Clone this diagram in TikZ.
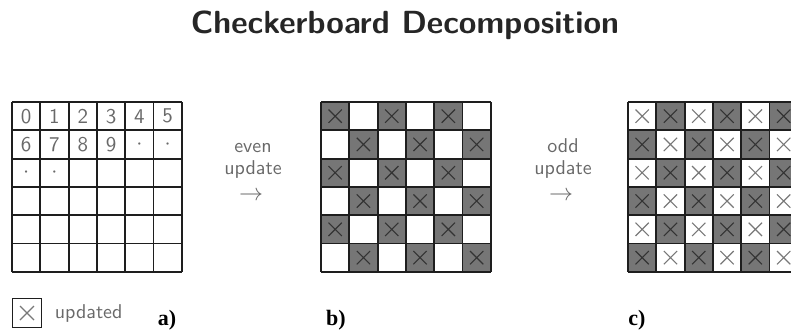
\documentclass[tikz,border=0pt]{standalone}
\usepackage{fontspec}
\newfontfamily\capfont{Liberation Serif}
\usetikzlibrary{positioning}

\definecolor{cellgray}{RGB}{118,118,118}
\definecolor{inkgray}{RGB}{105,105,105}
\definecolor{lineink}{RGB}{30,30,30}

\tikzset{
  gridline/.style={draw=lineink, line width=0.95pt},
  darkcell/.style={fill=cellgray},
  crossdark/.style={draw=black!80, line width=0.55pt},
  crosslight/.style={draw=inkgray!90, line width=0.55pt},
  digit/.style={text=inkgray, font=\sffamily\fontsize{10.5}{12}\selectfont, inner sep=0pt},
  steptext/.style={text=inkgray, font=\sffamily\fontsize{10}{11}\selectfont, inner sep=1pt},
  caption/.style={font=\capfont\bfseries\fontsize{11}{12}\selectfont, anchor=base, inner sep=0pt}
}

\begin{document}
\begin{tikzpicture}[x=0.5pt, y=-0.5pt]
        \useasboundingbox (0,0) rectangle (791,333);
        \clip (0,0) rectangle (791,333);

        \node[font=\sffamily\bfseries\fontsize{16}{20}\selectfont, text=black!85, anchor=base] (title) at (405,33) {Checkerboard Decomposition};

        % a) numbering of the sites
        \foreach \c/\r/\t in {0/0/0, 1/0/1, 2/0/2, 3/0/3, 4/0/4, 5/0/5, 0/1/6, 1/1/7, 2/1/8, 3/1/9, 4/1/{$\cdot$}, 5/1/{$\cdot$}, 0/2/{$\cdot$}, 1/2/{$\cdot$}}
            \node[digit] (site\c\r) at ({12+\c*28.3+14.15},{102+\r*28.3+14.15}) {\t};

        % b) even sites done
        \foreach \r in {0,...,5}
            \foreach \c in {0,...,5} {
                \pgfmathtruncatemacro\oddsite{mod(\r+\c,2)}
                \ifnum\oddsite=0
                    \fill[darkcell] ({321+\c*28.3},{102+\r*28.3}) rectangle ++(28.3,28.3);
                    \draw[crossdark] ({321+\c*28.3+7.5},{102+\r*28.3+7.5}) -- ++(13.3,13.3) ({321+\c*28.3+7.5},{102+\r*28.3+20.8}) -- ++(13.3,-13.3);
                \fi
            }

        % c) odd sites done as well
        \foreach \r in {0,...,5}
            \foreach \c in {0,...,6} {
                \pgfmathtruncatemacro\oddsite{mod(\r+\c,2)}
                \ifnum\oddsite=1
                    \fill[darkcell] ({628+\c*28.3},{102+\r*28.3}) rectangle ++(28.3,28.3);
                    \draw[crossdark] ({628+\c*28.3+7.5},{102+\r*28.3+7.5}) -- ++(13.3,13.3) ({628+\c*28.3+7.5},{102+\r*28.3+20.8}) -- ++(13.3,-13.3);
                \else
                    \draw[crosslight] ({628+\c*28.3+7.5},{102+\r*28.3+7.5}) -- ++(13.3,13.3) ({628+\c*28.3+7.5},{102+\r*28.3+20.8}) -- ++(13.3,-13.3);
                \fi
            }

        % the three grids
        \foreach \x in {12,321,628}
            \foreach \i in {0,...,6} {
                \draw[gridline] ({\x+\i*28.3},102) -- ++(0,169.8);
                \draw[gridline] (\x,{102+\i*28.3}) -- ++(169.8,0);
            }

        \node[steptext, align=center, anchor=base] (even) at (253,174) {even\\update};
        \node[steptext, inner sep=0pt, anchor=base] (evenarrow) at (251,200) {\large$\rightarrow$};
        \node[steptext, align=center, anchor=base] (odd) at (563,174) {odd\\update};
        \node[steptext, inner sep=0pt, anchor=base] (oddarrow) at (561,200) {\large$\rightarrow$};

        % legend
        \node[draw=lineink, line width=0.9pt, minimum size=14.5pt, inner sep=0pt] (key) at (27,313) {};
        \draw[crosslight] ([shift={(-7,-7)}]key.center) -- ([shift={(7,7)}]key.center) ([shift={(-7,7)}]key.center) -- ([shift={(7,-7)}]key.center);
        \node[steptext, right=5pt of key] (keytext) {updated};

        \node[caption] (capa) at (167,325) {a)};
        \node[caption] (capb) at (336,325) {b)};
        \node[caption] (capc) at (637,325) {c)};
\end{tikzpicture}
\end{document}
